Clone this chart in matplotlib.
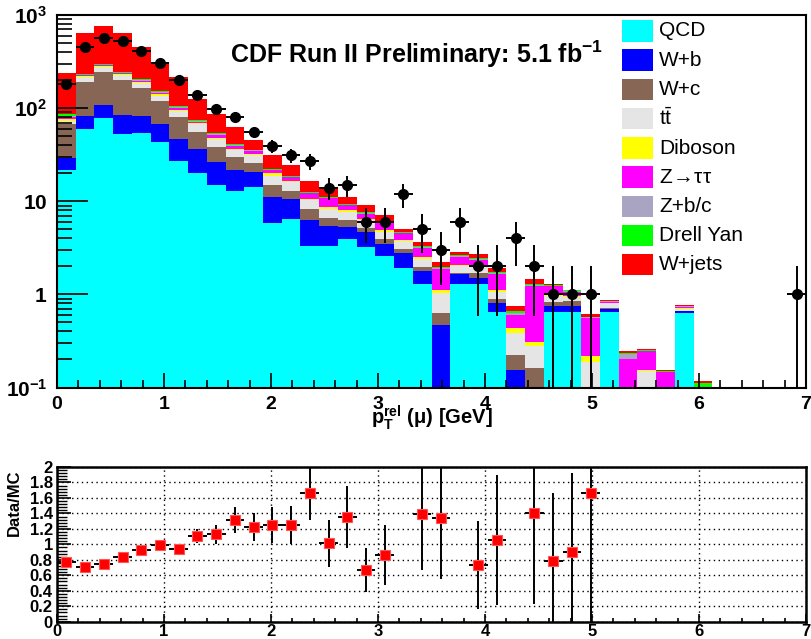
import numpy as np
import matplotlib
matplotlib.use('Agg')
import matplotlib.pyplot as plt
from matplotlib.ticker import MultipleLocator, FixedLocator, FixedFormatter, LogLocator, NullFormatter
from matplotlib.patches import Rectangle

plt.rcParams['font.family'] = ['Liberation Sans', 'DejaVu Sans']
plt.rcParams['mathtext.fontset'] = 'custom'
plt.rcParams['mathtext.rm'] = 'Liberation Sans'
plt.rcParams['mathtext.bf'] = 'Liberation Sans:bold'
plt.rcParams['mathtext.it'] = 'Liberation Sans:italic'

# binning: 40 bins of 0.175 GeV
edges = np.linspace(0, 7, 41)
centers = 0.5 * (edges[:-1] + edges[1:])

# MC components, per bin
qcd = [21.7, 59.8, 79, 53, 54, 43.7, 27.1, 20, 15, 13, 14.4, 5.9, 6.5, 3.3, 3.27, 3.9, 3.22, 2.6, 1.91, 1.3,
       0, 1.3, 1.3, 0.65, 0, 0, 0.65, 0.65, 0, 0.646, 0, 0, 0, 0.63, 0, 0, 0, 0, 0, 0]
wb = [7.7, 22.7, 29, 31, 28, 24.5, 19.6, 16.5, 11.7, 8.7, 6.3, 5.2, 4.0, 3.0, 2.2, 1.45, 1.4, 0.87, 0.86, 0.49,
      0.47, 0.36, 0.2, 0.16, 0.155, 0, 0.095, 0.095, 0, 0.054, 0, 0, 0, 0.03, 0, 0, 0, 0, 0, 0]
wc = [38.3, 110, 138, 116, 82, 52, 33.2, 19.5, 11.9, 8.5, 5.3, 3.8, 2.5, 1.9, 1.1, 1.0, 0.6, 0.45, 0.29, 0.2,
      0.16, 0.05, 0.19, 0.08, 0.07, 0.16, 0.077, 0.1, 0, 0.02, 0, 0, 0, 0.005, 0, 0, 0, 0, 0, 0]
ttbar = [5.7, 25.4, 32, 25, 20, 16, 14.1, 11.2, 7.8, 5.4, 5.5, 4.0, 2.9, 2.0, 1.7, 1.4, 1.0, 0.74, 0.67, 0.4,
         0.4, 0.33, 0.3, 0.18, 0.16, 0.12, 0.15, 0.1, 0.19, 0.08, 0, 0.149, 0, 0.03, 0, 0, 0, 0, 0, 0]
diboson = [3.7, 5.4, 7, 7, 6, 4.8, 2.4, 2.2, 1.8, 1.2, 1.0, 1.1, 0.6, 0.3, 0.36, 0.25, 0.22, 0.2, 0.12, 0.12,
           0.09, 0.04, 0.08, 0.05, 0.05, 0.03, 0.03, 0.01, 0.03, 0.01, 0, 0.006, 0, 0.015, 0, 0, 0, 0, 0, 0]
ztautau = [4.0, 3.8, 5, 6, 6, 4.6, 4.9, 2.2, 3.8, 2.8, 2.5, 1.4, 1.6, 1.7, 2.15, 1.05, 0.9, 0.96, 0.7, 0.63,
           0.75, 0.47, 0.28, 0.54, 0.17, 0.93, 0.22, 0.11, 0.337, 0.024, 0.202, 0.089, 0.145, 0.03, 0.07, 0.09,
           0, 0, 0, 0]
zbc = [1.5, 2.0, 3.5, 3, 3, 3, 1.8, 1.6, 1, 0.6, 0.4, 0.3, 0.3, 0.2, 0.15, 0.13, 0.1, 0.08, 0.05, 0.05,
       0.05, 0.04, 0.04, 0.04, 0.03, 0.02, 0.02, 0.01, 0.01, 0.005, 0.028, 0.005, 0, 0.005, 0.01, 0, 0, 0, 0, 0]
drellyan = [3.4, 3.8, 6, 5, 4, 4.4, 2.5, 2, 1.2, 0.8, 0.5, 0.4, 0.3, 0.3, 0.25, 0.25, 0.2, 0.1, 0.06, 0.08,
            0.07, 0.05, 0.05, 0.06, 0.03, 0.03, 0.02, 0.03, 0.01, 0.01, 0.004, 0.005, 0.004, 0.005, 0.033, 0,
            0, 0, 0, 0]
wjets = [151, 403, 462, 390, 253, 158, 112, 50.3, 32.5, 21.4, 9.7, 9.4, 5.9, 3.6, 2.6, 1.8, 1.5, 1.15, 0.43, 0.37,
         0.26, 0.22, 0.29, 0.15, 0.09, 0.16, 0.04, 0.013, 0.033, 0.015, 0.01, 0.006, 0.006, 0.025, 0.005, 0.012,
         0, 0, 0, 0]

labels = ['QCD', 'W+b', 'W+c', r'$\mathrm{t\bar{t}}$', 'Diboson', r'Z$\!\rightarrow\!$' + '\u03c4\u03c4', 'Z+b/c',
          'Drell Yan', 'W+jets']
colors = ['#00ffff', '#0000ff', '#886655', '#e5e5e5', '#ffff00', '#ff00ff', '#a9a4c2', '#00ff00', '#ff0000']
layers = [qcd, wb, wc, ttbar, diboson, ztautau, zbc, drellyan, wjets]

# data counts (0 = no entry)
data = [182, 450, 562, 526, 414, 305, 201, 140, 97, 81, 56, 39, 31, 27, 14, 15, 6, 6, 12, 5,
        3, 6, 2, 2, 4, 2, 1, 1, 1, 0, 0, 0, 0, 0, 0, 0, 0, 0, 0, 1]

# Data/MC ratio (nan = off scale / empty)
nan = np.nan
ratio = [0.776, 0.711, 0.746, 0.84, 0.927, 0.992, 0.936, 1.108, 1.13, 1.315, 1.228, 1.25, 1.25, 1.668,
         1.013, 1.357, 0.668, 0.862, nan, 1.388, 1.337, nan, 0.733, 1.056, nan, 1.41, 0.785, 0.897, 1.66]
ratio_err = [0.06, 0.04, 0.035, 0.04, 0.045, 0.055, 0.065, 0.09, 0.12, 0.17, 0.18, 0.23, 0.25, 0.35,
             0.3, 0.4, 0.29, 0.39, nan, 0.72, 0.79, nan, 0.57, 0.84, nan, 1.18, 0.875, 1.03, 1.7]

W, H = 811, 639
fig = plt.figure(figsize=(W / 100, H / 100), dpi=100)


def fx(px):
    return px / W


def fy(py):
    return 1 - py / H


# ---------------- top panel: stacked histogram ----------------
ax = fig.add_axes([fx(57), fy(387.5), (806 - 57) / W, (387.5 - 15) / H])
ax.set_yscale('log')

cum = np.cumsum(np.array(layers, dtype=float), axis=0)
for k in range(len(layers) - 1, -1, -1):
    ax.stairs(np.maximum(cum[k], 1e-3), edges, baseline=1e-3, fill=True, color=colors[k], lw=0, zorder=1)

d = np.array(data, dtype=float)
m = d > 0
err_lo = np.minimum(np.sqrt(d[m]), d[m] * 0.9999)
ax.errorbar(centers[m], d[m], yerr=[err_lo, np.sqrt(d[m])], xerr=0.0875, fmt='o', color='k',
            ms=7, elinewidth=1.4, capsize=0, zorder=4)

ax.set_xlim(0, 7)
ax.set_ylim(0.1, 1000)
ax.xaxis.set_major_locator(FixedLocator(range(8)))
ax.xaxis.set_major_formatter(FixedFormatter([str(i) for i in range(8)]))
ax.xaxis.set_minor_locator(MultipleLocator(0.2))
ax.yaxis.set_major_locator(FixedLocator([0.1, 1, 10, 100, 1000]))
ax.yaxis.set_major_formatter(FixedFormatter([r'$\mathbf{10^{-1}}$', r'$\mathbf{1}$', r'$\mathbf{10}$',
                                             r'$\mathbf{10^{2}}$', r'$\mathbf{10^{3}}$']))
ax.yaxis.set_minor_locator(LogLocator(base=10, subs=np.arange(2, 10)))
ax.yaxis.set_minor_formatter(NullFormatter())
ax.tick_params(axis='x', which='major', direction='in', length=11, width=1.2, labelsize=14, pad=6)
ax.tick_params(axis='x', which='minor', direction='in', length=5.5, width=1.2)
ax.tick_params(axis='y', which='major', direction='in', length=22, width=1.2, labelsize=15, pad=7)
ax.tick_params(axis='y', which='minor', direction='in', length=11, width=1.2)
for lab in ax.get_xticklabels():
    lab.set_fontweight('bold')
for sp in ax.spines.values():
    sp.set_linewidth(1.5)

fig.text(fx(431.5), fy(424), r'$\mathbf{p_{T}^{rel}}$ (' + '\u03bc' + ') [GeV]', ha='center', va='baseline',
         fontsize=14.5, fontweight='bold')
fig.text(fx(230), fy(63), r'CDF Run II Preliminary: 5.1 fb$^{\mathbf{-1}}$', ha='left', va='baseline',
         fontsize=18, fontweight='bold')

# legend
leg_y = [31, 60.2, 89.5, 118.5, 148, 177.2, 206.3, 235.5, 264.5]
for lab, c, cy in zip(labels, colors, leg_y):
    fig.add_artist(Rectangle((fx(621.7), fy(cy + 10.8)), 31.6 / W, 21.6 / H, transform=fig.transFigure,
                             facecolor=c, edgecolor='none', zorder=6))
    fig.text(fx(659), fy(cy), lab, ha='left', va='center', fontsize=15, zorder=6)

# ---------------- bottom panel: ratio ----------------
axr = fig.add_axes([fx(57), fy(621.7), (806 - 57) / W, (621.7 - 467) / H])
r = np.array(ratio)
re = np.array(ratio_err)
rm = ~np.isnan(r)
xc = centers[:len(r)]
axr.errorbar(xc[rm], r[rm], yerr=re[rm], xerr=0.0875, fmt='none', ecolor='k', elinewidth=1.4, zorder=3)
axr.plot(xc[rm], r[rm], 's', color='#ff0000', mec='#ff5555', mew=0.8, ms=7, zorder=4)

rticks = ['0', '0.2', '0.4', '0.6', '0.8', '1', '1.2', '1.4', '1.6', '1.8', '2']
axr.set_xlim(0, 7)
axr.set_ylim(0, 2)
axr.xaxis.set_major_locator(FixedLocator(range(8)))
axr.xaxis.set_major_formatter(FixedFormatter([str(i) for i in range(8)]))
axr.xaxis.set_minor_locator(MultipleLocator(0.2))
axr.yaxis.set_major_locator(FixedLocator([0.2 * i for i in range(11)]))
axr.yaxis.set_major_formatter(FixedFormatter(rticks))
axr.yaxis.set_minor_locator(MultipleLocator(0.04))
axr.grid(True, which='major', color='k', ls=(0, (1, 2.5)), lw=1)
axr.tick_params(axis='x', which='major', direction='in', length=6, width=1.2, labelsize=12, pad=2)
axr.tick_params(axis='x', which='minor', direction='in', length=3, width=1.2)
axr.tick_params(axis='y', which='major', direction='in', length=10, width=1.2, labelsize=12, pad=3)
axr.tick_params(axis='y', which='minor', direction='in', length=7, width=1.0)
for lab in axr.get_xticklabels() + axr.get_yticklabels():
    lab.set_fontweight('bold')
for sp in axr.spines.values():
    sp.set_linewidth(1.8)

fig.text(fx(14), fy(469), 'Data/MC', rotation=90, ha='center', va='top', fontsize=12, fontweight='bold')

fig.savefig('out.png', dpi=100)
